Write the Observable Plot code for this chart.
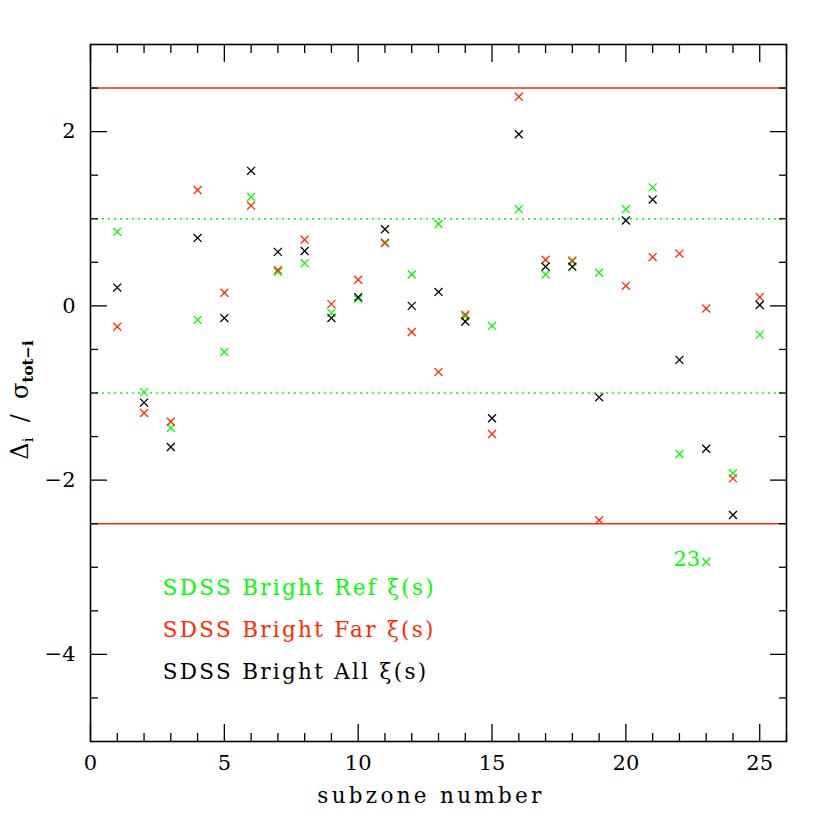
<!DOCTYPE html>
<html><head><meta charset="utf-8">
<script src="https://cdn.jsdelivr.net/npm/d3@7"></script>
<script src="https://cdn.jsdelivr.net/npm/@observablehq/plot@0.6"></script>
<style>body{margin:0;background:#fff} .legend-text text{letter-spacing:2.3px}</style>
</head><body><div id="chart"></div>
<script>
const subzones = [1,2,3,4,5,6,7,8,9,10,11,12,13,14,15,16,17,18,19,20,21,22,23,24,25];
const refXi = [0.85,-0.99,-1.40,-0.16,-0.53,1.25,0.39,0.49,-0.08,0.08,0.73,0.36,0.94,-0.12,-0.23,1.11,0.36,0.51,0.38,1.11,1.36,-1.70,-2.94,-1.92,-0.33];
const farXi = [-0.24,-1.23,-1.33,1.33,0.15,1.15,0.41,0.76,0.02,0.30,0.72,-0.30,-0.76,-0.10,-1.47,2.40,0.53,0.52,-2.46,0.23,0.56,0.60,-0.03,-1.98,0.10];
const allXi = [0.21,-1.11,-1.62,0.78,-0.14,1.55,0.62,0.63,-0.14,0.10,0.88,0.00,0.16,-0.18,-1.29,1.97,0.45,0.45,-1.05,0.98,1.22,-0.62,-1.64,-2.40,0.01];
const seriesNames = ["SDSS Bright Ref ξ(s)","SDSS Bright Far ξ(s)","SDSS Bright All ξ(s)"];
const xMajorTicks = [0,5,10,15,20,25];
const xMinorTicks = [1,2,3,4,6,7,8,9,11,12,13,14,16,17,18,19,21,22,23,24,26];
const yMajorTicks = [-4,-2,0,2];
const yMinorTicks = [-4.5,-3.5,-3,-2.5,-1.5,-1,-0.5,0.5,1,1.5,2.5];
const limitLines = [2.5,-2.5];
const sigmaLines = [1,-1];
const labelledZone = [23];

const GREEN = "#00ff00", RED = "#ff2a00", BLACK = "#000000";
const FONT = "DejaVu Serif";

const rows = (vals, s) => subzones.map((z, i) => ({z, v: vals[i], s}));
const greenPts = rows(refXi, 0), redPts = rows(farXi, 1), blackPts = rows(allXi, 2);
const legendRows = seriesNames.map((name, i) => ({name, i}));
const labelRows = labelledZone.map(z => ({z, v: refXi[subzones.indexOf(z)]}));

const dotOpts = {x: "z", y: "v", symbol: "times", r: 3.7, strokeWidth: 1.3};
const tickAxis = (fn, anchor, ticks, size) => fn({anchor, ticks, tickSize: -size, text: null, label: null, strokeWidth: 1.3});

const plot = Plot.plot({
  width: 830, height: 830,
  marginTop: 44, marginRight: 44, marginBottom: 89, marginLeft: 90,
  style: {fontFamily: FONT, fontSize: "21px", background: "#fff", color: "#000"},
  x: {domain: [0, 26]},
  y: {domain: [-5, 3]},
  marks: [
    Plot.ruleY(limitLines, {stroke: RED, strokeWidth: 1.6}),
    Plot.ruleY(sigmaLines, {stroke: GREEN, strokeWidth: 1.6, strokeDasharray: "2,4"}),
    Plot.dot(greenPts, {...dotOpts, stroke: GREEN}),
    Plot.dot(redPts, {...dotOpts, stroke: RED}),
    Plot.dot(blackPts, {...dotOpts, stroke: BLACK}),
    Plot.text(labelRows, {x: "z", y: "v", text: d => String(d.z), fill: GREEN, textAnchor: "end", lineAnchor: "bottom", dx: -6, dy: 4, fontSize: 21}),
    Plot.text(legendRows, {x: 2.7, y: d => -3.32 - 0.48 * d.i, text: "name", fill: d => [GREEN, RED, BLACK][d.i], textAnchor: "start", lineAnchor: "bottom", fontSize: 21.5, className: "legend-text"}),
    tickAxis(Plot.axisX, "bottom", xMajorTicks, 17),
    tickAxis(Plot.axisX, "top", xMajorTicks, 17),
    tickAxis(Plot.axisX, "bottom", xMinorTicks, 8),
    tickAxis(Plot.axisX, "top", xMinorTicks, 8),
    tickAxis(Plot.axisY, "left", yMajorTicks, 17),
    tickAxis(Plot.axisY, "right", yMajorTicks, 17),
    tickAxis(Plot.axisY, "left", yMinorTicks, 8),
    tickAxis(Plot.axisY, "right", yMinorTicks, 8),
    Plot.axisX({anchor: "bottom", ticks: xMajorTicks, tickSize: 0, tickPadding: 14, label: null, fontSize: 21}),
    Plot.axisY({anchor: "left", ticks: yMajorTicks, tickSize: 0, tickPadding: 15, label: null, fontSize: 21, tickFormat: d => d < 0 ? "\u2212" + Math.abs(d) : String(d)}),
    Plot.frame({stroke: BLACK, strokeWidth: 1.6})
  ]
});

const svg = d3.select(plot);
svg.append("text")
  .attr("x", 431).attr("y", 803)
  .attr("text-anchor", "middle")
  .style("font-family", FONT).style("font-size", "21.5px").style("letter-spacing", "3.3px")
  .attr("fill", "#000")
  .text("subzone number");
const yl = svg.append("text")
  .attr("transform", "translate(28,400) rotate(-90)")
  .attr("text-anchor", "middle")
  .style("font-family", FONT).style("font-size", "24px")
  .attr("fill", "#000");
yl.append("tspan").text("Δ");
yl.append("tspan").attr("dy", 5).style("font-size", "15px").text("i");
yl.append("tspan").attr("dy", -5).text("  /  σ");
yl.append("tspan").attr("dy", 5).style("font-size", "15px").style("font-weight", "bold").text("tot−i");

document.getElementById("chart").appendChild(plot);
</script>
</body></html>
